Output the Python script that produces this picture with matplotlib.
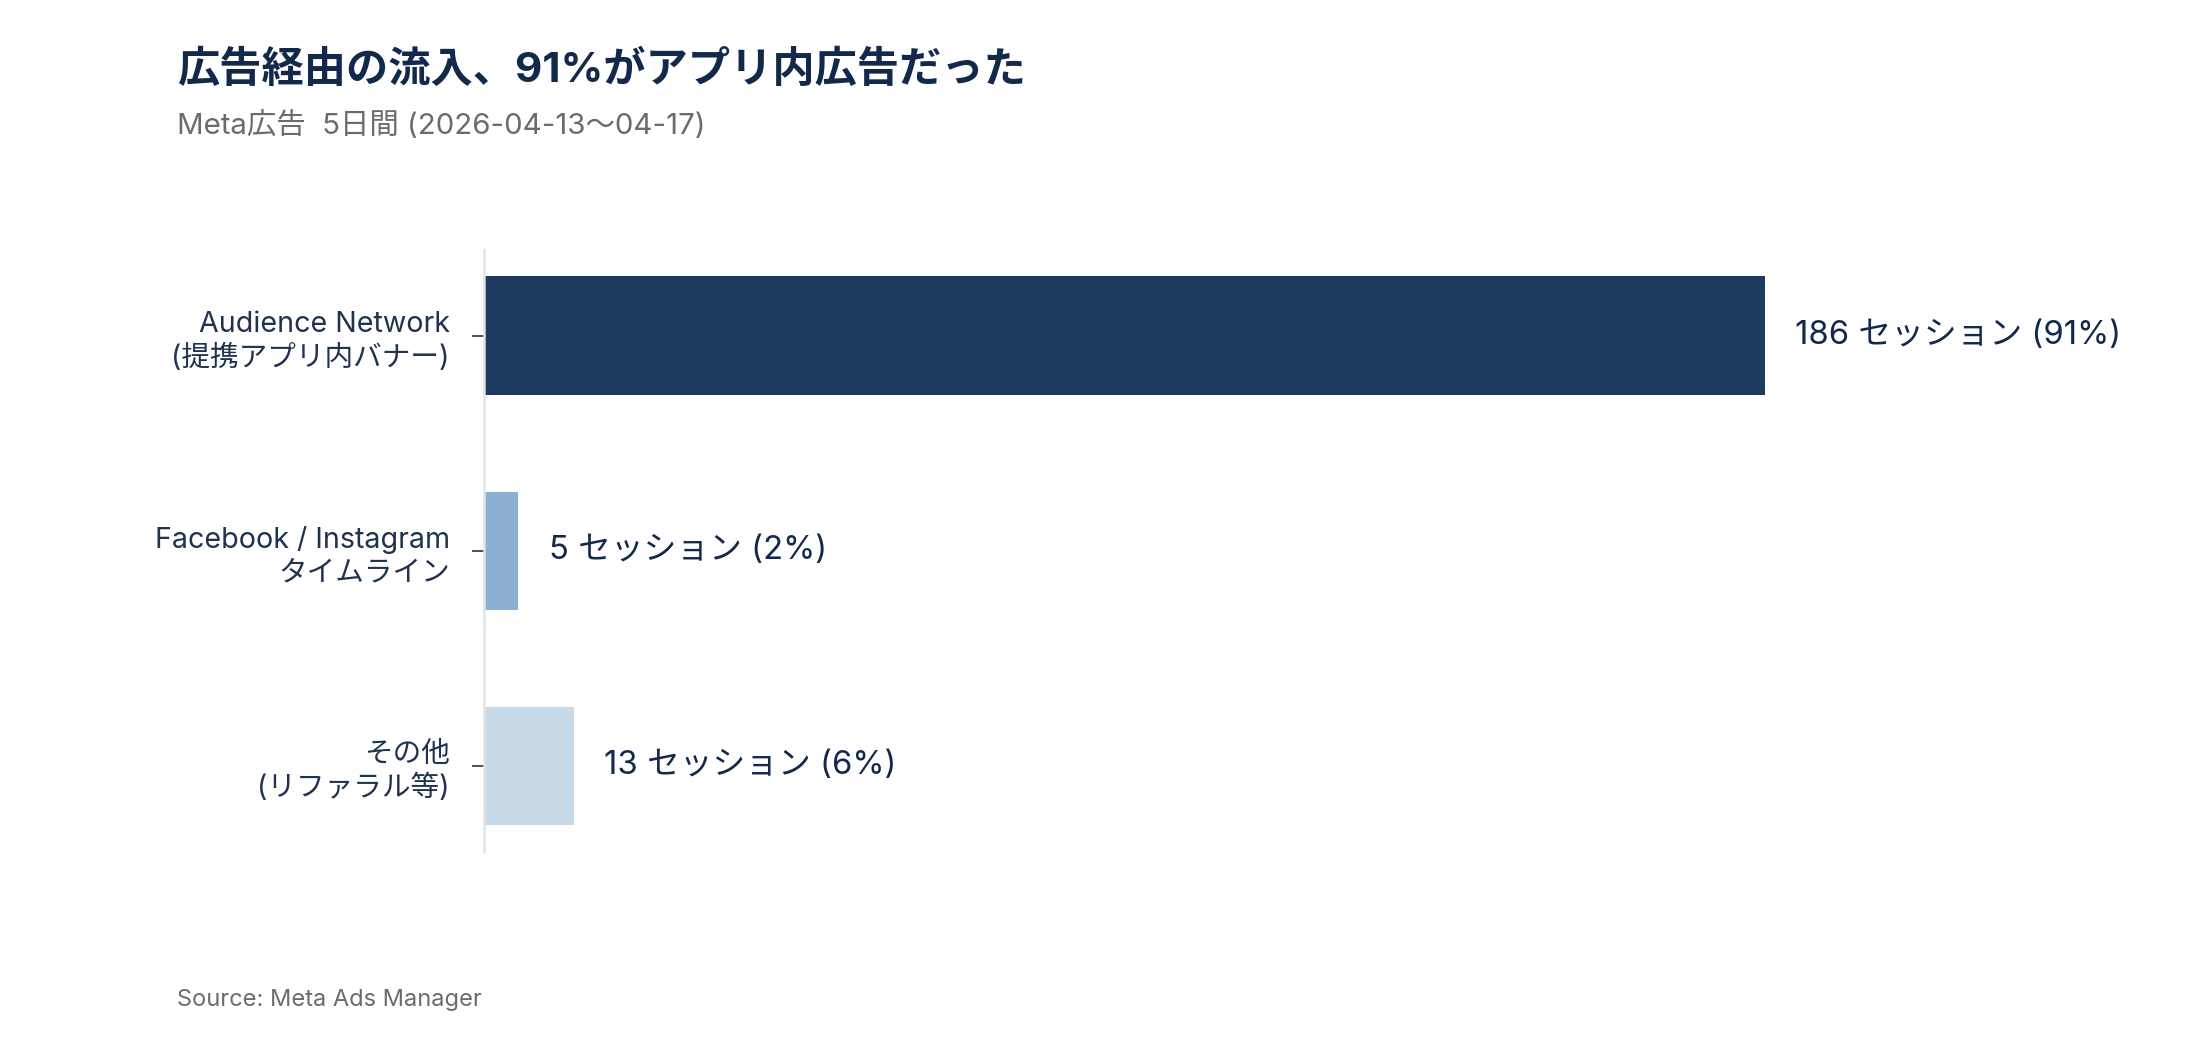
import matplotlib
matplotlib.use('Agg')
import matplotlib.pyplot as plt

# wider latin glyphs first, japanese falls back to the CJK family
plt.rcParams['font.family'] = ['Inter', 'Noto Sans CJK JP', 'DejaVu Sans']

# data
categories = ['Audience Network\n(提携アプリ内バナー)',
              'Facebook / Instagram\nタイムライン',
              'その他\n(リファラル等)']
sessions = [186, 5, 13]
shares = [91, 2, 6]
bar_colors = ['#1f3a5f', '#8bb0d1', '#c8d9e8']

title = '広告経由の流入、91%がアプリ内広告だった'
subtitle = 'Meta広告  5日間 (2026-04-13〜04-17)'
source = 'Source: Meta Ads Manager'

navy = '#13294b'
label_color = '#1f3350'

fig = plt.figure(figsize=(11, 5.2), dpi=200)
ax = fig.add_axes([0.22, 0.181, 0.73, 0.579])

y_pos = list(range(len(categories)))
ax.barh(y_pos, sessions, height=0.55, color=bar_colors)

for y, s, p in zip(y_pos, sessions, shares):
    ax.annotate(f'{s} セッション ({p}%)', xy=(s, y), xytext=(11, 0),
                textcoords='offset points', va='center', ha='left',
                fontsize=11.8, color=navy)

ax.set_yticks(y_pos)
ax.set_yticklabels(categories, fontsize=10.3, color=label_color,
                   linespacing=1.25)
ax.set_ylim(2.4, -0.4)
ax.set_xlim(0, max(sessions) * 1.254)
ax.set_xticks([])

for side in ['top', 'right', 'bottom']:
    ax.spines[side].set_visible(False)
ax.spines['left'].set_color('#e3e3e3')
ax.spines['left'].set_linewidth(0.9)
ax.tick_params(axis='y', length=4.3, width=0.6, color='#333333', pad=8)

fig.text(0.0805, 0.933, title, fontsize=15.2, fontweight='bold',
         color=navy, va='center', ha='left')
fig.text(0.0805, 0.879, subtitle, fontsize=10.6, color='#6b6b6b',
         va='center', ha='left')
fig.text(0.0805, 0.0385, source, fontsize=8.5, color='#6b6b6b',
         va='center', ha='left')

fig.savefig('out.png', dpi=200, facecolor='white')
